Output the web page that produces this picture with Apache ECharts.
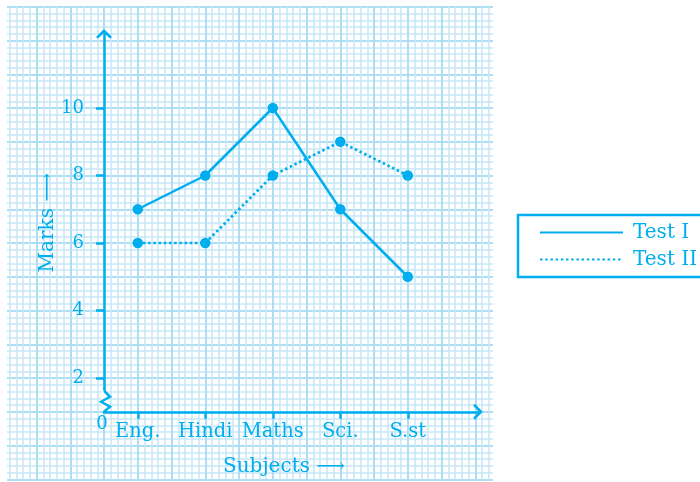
<!DOCTYPE html>
<html>
<head>
<meta charset="utf-8">
<script src="https://cdn.jsdelivr.net/npm/echarts@6/dist/echarts.min.js"></script>
<style>
html,body{margin:0;padding:0;background:#fff;}
#c{width:700px;height:482px;}
</style>
</head>
<body>
<div id="c"></div>
<script>
const subjects = ['Eng.', 'Hindi', 'Maths', 'Sci.', 'S.st'];
const subjectPos = [1, 3, 5, 7, 9];
const test1 = [7, 8, 10, 7, 5];
const test2 = [6, 6, 8, 9, 8];
const yTicks = [2, 4, 6, 8, 10];
const seriesNames = ['Test I', 'Test II'];

const C = '#00aeef';
const FONT = 'DejaVu Serif';

const chart = echarts.init(document.getElementById('c'), null, {renderer: 'canvas'});

const option = {
  animation: false,
  backgroundColor: '#ffffff',
  grid: [
    {left: 104, right: 222, top: 33.75, bottom: 70.25},
    {left: 2.75, top: 6.75, width: 506.25, height: 472.5}
  ],
  xAxis: [
    {
      type: 'value', gridIndex: 0, min: 0, max: 11.08, z: 5,
      axisLine: {show: true, lineStyle: {color: C, width: 2.5},
        symbol: ['none', 'path://M0,10 L10,0 L20,10 L17.5,12 L10,5 L2.5,12 Z'], symbolSize: [16, 10]},
      axisTick: {show: true, customValues: subjectPos, length: 7, lineStyle: {color: C, width: 2.5}},
      axisLabel: {
        show: true, customValues: [0].concat(subjectPos), margin: 4,
        formatter: function (v) {
          if (v === 0) return '{z|0}';
          return '{s|' + subjects[subjectPos.indexOf(v)] + '}';
        },
        rich: {
          z: {fontFamily: FONT, fontSize: 18, color: C, padding: [0, 4, 0, 0]},
          s: {fontFamily: FONT, fontSize: 19.5, color: C, padding: [6, 0, 0, 0]}
        }
      },
      splitLine: {show: false},
      name: 'Subjects \u27F6', nameLocation: 'middle', nameGap: 45,
      nameTextStyle: {fontFamily: FONT, fontSize: 20, color: C, padding: [0, 14, 0, 0]}
    },
    {
      type: 'value', gridIndex: 1, min: -15, max: 60, interval: 5, z: 0,
      axisLine: {show: false}, axisTick: {show: false}, axisLabel: {show: false},
      splitLine: {show: true, lineStyle: {color: '#aedef4', width: 2}},
      minorTick: {show: false, splitNumber: 5},
      minorSplitLine: {show: true, lineStyle: {color: '#c6e8f8', width: 1.5}}
    }
  ],
  yAxis: [
    {
      type: 'value', gridIndex: 0, min: 1, max: 12.2, z: 5,
      axisLine: {show: true, lineStyle: {color: C, width: 2.5},
        symbol: ['none', 'path://M0,10 L10,0 L20,10 L17.5,12 L10,5 L2.5,12 Z'], symbolSize: [16, 10]},
      axisTick: {show: true, customValues: yTicks, length: 8, lineStyle: {color: C, width: 2.5}},
      axisLabel: {show: true, customValues: yTicks, margin: 20, fontFamily: FONT, fontSize: 18, color: C},
      splitLine: {show: false},
      name: 'Marks \u27F6', nameLocation: 'middle', nameRotate: 90, nameGap: 46,
      nameMoveOverlap: false,
      nameTextStyle: {fontFamily: FONT, fontSize: 20, color: C}
    },
    {
      type: 'value', gridIndex: 1, min: -55, max: 15, interval: 5, z: 0,
      axisLine: {show: false}, axisTick: {show: false}, axisLabel: {show: false},
      splitLine: {show: true, lineStyle: {color: '#aedef4', width: 2}},
      minorTick: {show: false, splitNumber: 5},
      minorSplitLine: {show: true, lineStyle: {color: '#c6e8f8', width: 1.5}}
    }
  ],
  legend: {
    orient: 'vertical', left: 518, top: 215,
    data: seriesNames,
    itemWidth: 83, itemHeight: 14, itemGap: 6,
    padding: [7, 20, 7, 21],
    borderColor: C, borderWidth: 2.5, borderRadius: 0,
    itemStyle: {opacity: 0},
    textStyle: {fontFamily: FONT, fontSize: 20, color: C, lineHeight: 21, padding: [0, 0, 0, 5]}
  },
  series: [
    {
      name: seriesNames[0], type: 'line', xAxisIndex: 0, yAxisIndex: 0, z: 6,
      data: subjects.map((s, i) => [subjectPos[i], test1[i]]),
      symbol: 'circle', symbolSize: 10.5,
      itemStyle: {color: C},
      lineStyle: {color: C, width: 2.5, type: 'solid'}
    },
    {
      name: seriesNames[1], type: 'line', xAxisIndex: 0, yAxisIndex: 0, z: 6,
      data: subjects.map((s, i) => [subjectPos[i], test2[i]]),
      symbol: 'circle', symbolSize: 10.5,
      itemStyle: {color: C},
      lineStyle: {color: C, width: 2.7, type: [2.5, 2.7]}
    }
  ]
};
chart.setOption(option);

// decorations: paper masks and axis break (zig-zag)
const o = chart.convertToPixel({gridIndex: 0}, [0, 1]);
chart.setOption({
  graphic: [
    {type: 'rect', z: 1, shape: {x: 0, y: 0, width: 7, height: 482}, style: {fill: '#fff'}, silent: true},
    {type: 'rect', z: 1, shape: {x: 493, y: 0, width: 20, height: 482}, style: {fill: '#fff'}, silent: true},
    {type: 'rect', z: 7, shape: {x: o[0] - 2.5, y: o[1] - 23, width: 5, height: 22}, style: {fill: '#fff'}, silent: true},
    {type: 'polyline', z: 8, shape: {points: [
      [o[0], o[1] - 24], [o[0] + 1, o[1] - 20], [o[0] + 6, o[1] - 15], [o[0] - 3, o[1] - 10], [o[0] + 6, o[1] - 5], [o[0], o[1]]
    ]}, style: {stroke: C, lineWidth: 2.5, fill: null}, silent: true}
  ]
});
</script>
</body>
</html>
